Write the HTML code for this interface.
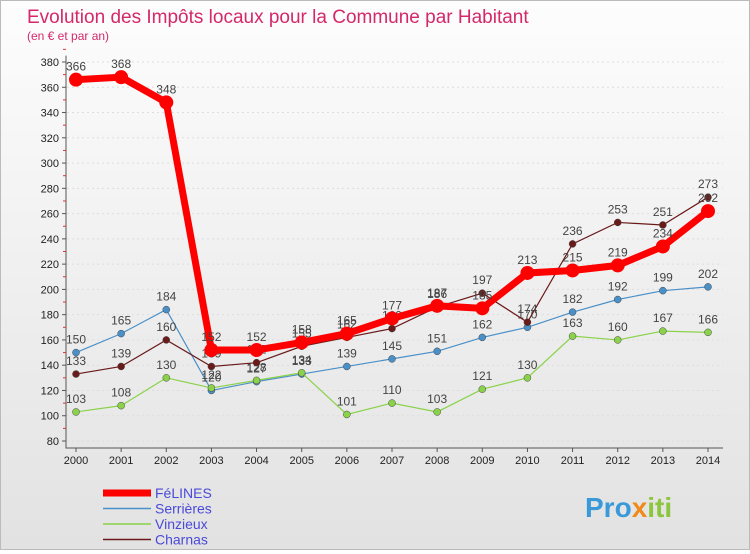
<!DOCTYPE html>
<html><head><meta charset="utf-8"><style>
body{margin:0;width:750px;height:550px;overflow:hidden;font-family:"Liberation Sans",sans-serif}
#c{position:relative;width:748px;height:548px;border:1px solid #bbb;background:linear-gradient(#fdfdfd,#e2e2e2)}
</style></head><body>
<div id="c">
<svg id="s" width="748" height="548" xmlns="http://www.w3.org/2000/svg" font-family="Liberation Sans, sans-serif">
<text x="26" y="22" font-size="19" fill="#d4286a">Evolution des Impôts locaux pour la Commune par Habitant</text>
<text x="26" y="39" font-size="12" fill="#d4286a">(en € et par an)</text>
<g id="grid"></g><g id="series"></g><g id="legend"></g>
<text x="584" y="516" font-size="28" font-weight="bold" fill="#3a9ad9">Pro<tspan fill="#f08a1c">x</tspan><tspan fill="#8cc63f">iti</tspan></text>
</svg>
</div>
<script>
const years=[2000,2001,2002,2003,2004,2005,2006,2007,2008,2009,2010,2011,2012,2013,2014];
const yTicks=[80,100,120,140,160,180,200,220,240,260,280,300,320,340,360,380];
const felines=[366,368,348,152,152,158,165,177,187,185,213,215,219,234,262];
const serrieres=[150,165,184,120,127,133,139,145,151,162,170,182,192,199,202];
const vinzieux=[103,108,130,122,128,134,101,110,103,121,130,163,160,167,166];
const charnas=[133,139,160,139,142,155,162,169,186,197,174,236,253,251,273];
const NS="http://www.w3.org/2000/svg";
function X(i){return 75+i*(707-75)/14;}
function Y(v){return 440-(v-80)*(440-61)/300;}
function mk(t,a,p){const e=document.createElementNS(NS,t);for(const k in a)e.setAttribute(k,a[k]);p.appendChild(e);return e;}
const g=document.getElementById('grid');
const axis=mk('path',{d:`M65 ${Y(385)}V447H722`,stroke:'#555',fill:'none'},g);


yTicks.forEach(v=>{
 const l=mk('line',{x1:66,x2:722,y1:Y(v),y2:Y(v),stroke:'#ddd','stroke-dasharray':'2,3'},g);
 
 
 const t=mk('text',{x:58,y:Y(v)+4,'font-size':11,'text-anchor':'end',fill:'#222'},g);t.textContent=v;
 
 
 mk('line',{x1:61,x2:65,y1:Y(v),y2:Y(v),stroke:'#555'},g);
 mk('line',{x1:62,x2:65,y1:Y(v+10),y2:Y(v+10),stroke:'#d33'},g);
});
years.forEach((y,i)=>{
 const t=mk('text',{x:X(i),y:463,'font-size':11,'text-anchor':'middle',fill:'#222'},g);t.textContent=y;
 
 
 mk('line',{x1:X(i),x2:X(i),y1:447,y2:451,stroke:'#555'},g);
});
const sg=document.getElementById('series');
const defs=[["serrieres",serrieres,"#4a90c8",1.2,3.5],["vinzieux",vinzieux,"#8ad24a",1.2,3.5],["charnas",charnas,"#6b1a1a",1.2,3.5],["felines",felines,"#ff0000",7,7]];
defs.forEach(([n,d,c,w,r])=>{
 const p=mk('polyline',{points:d.map((v,i)=>X(i)+','+Y(v)).join(' '),fill:'none',stroke:c,'stroke-width':w},sg);
 
 
 d.forEach((v,i)=>{
  const m=mk('circle',{cx:X(i),cy:Y(v),r:r,fill:c,stroke:'#444','stroke-width':n==='felines'?0:0.5},sg);
  
  
  const t=mk('text',{x:X(i),y:Y(v)-9,'font-size':12,'text-anchor':'middle',fill:'#444'},sg);t.textContent=v;
  
  
 });
});
const lg=document.getElementById('legend');
[["FéLINES","#ff0000",7],["Serrières","#4a90c8",1.5],["Vinzieux","#8ad24a",1.5],["Charnas","#6b1a1a",1.5]].forEach(([n,c,w],i)=>{
 const y=492+i*15.5;
 const l=mk('line',{x1:102,x2:150,y1:y,y2:y,stroke:c,'stroke-width':w},lg);
 
 
 const t=mk('text',{x:154,y:y+5,'font-size':14,fill:'#4a4ad8'},lg);t.textContent=n;
 
 
});
</script>
</body></html>
